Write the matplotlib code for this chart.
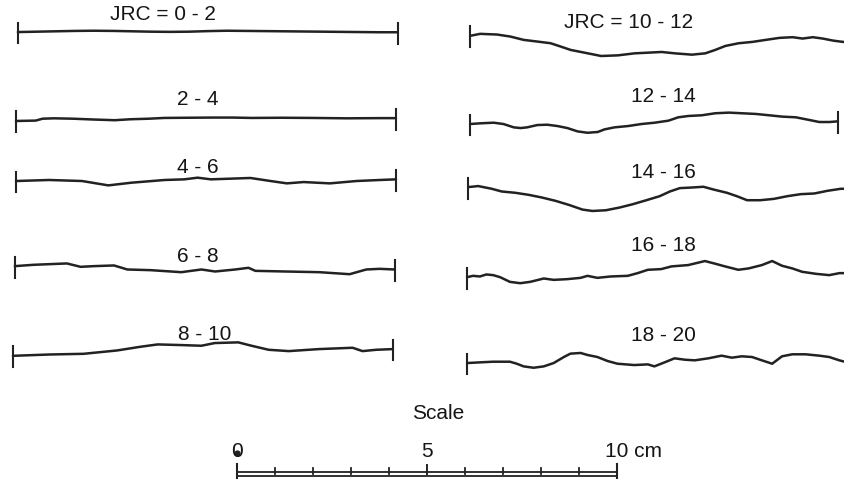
import matplotlib.pyplot as plt

# Roughness profiles: distance along trace (mm) and surface height (mm)
X_0_2 = [0, 5, 10, 15, 20, 25, 30, 35, 40, 45, 50, 55, 60, 65, 70, 75, 80, 85, 90, 95, 100]
H_0_2 = [0, 0.1, 0.2, 0.3, 0.35, 0.3, 0.2, 0.1, 0.05, 0.1, 0.25, 0.35, 0.3, 0.25, 0.2, 0.15,
         0.1, 0.05, 0, -0.05, -0.05]

X_2_4 = [0, 5.2, 7.0, 10, 15, 20, 26, 30, 35, 39, 45, 52, 57, 62, 70, 78, 87, 96, 100]
H_2_4 = [0, 0.1, 0.6, 0.7, 0.6, 0.4, 0.2, 0.45, 0.6, 0.8, 0.85, 0.9, 0.9, 0.8, 0.85, 0.8,
         0.7, 0.75, 0.75]

X_4_6 = [0, 8.7, 17.4, 24.3, 30.4, 39.1, 44.3, 47.8, 51.3, 56.5, 61.7, 67.0, 71.3, 75.7,
         82.6, 89.6, 95.7, 100]
H_4_6 = [0, 0.27, 0, -1.15, -0.44, 0.27, 0.44, 0.88, 0.44, 0.62, 0.8, 0, -0.62, -0.27,
         -0.62, 0, 0.27, 0.44]

X_6_8 = [0, 4.9, 13.7, 17.3, 20.8, 26.1, 29.6, 35.8, 43.8, 49.1, 52.7, 58.0, 61.5, 63.3,
         71.2, 80.1, 88.1, 92.5, 96.0, 100]
H_6_8 = [0, 0.35, 0.71, -0.18, 0, 0.18, -0.88, -1.06, -1.59, -0.88, -1.41, -0.88, -0.44,
         -1.24, -1.41, -1.59, -2.12, -0.88, -0.71, -0.88]

X_8_10 = [0, 9.7, 18.6, 27.4, 33.6, 38.1, 44.2, 49.6, 53.1, 59.3, 62.8, 67.3, 72.6, 80.5,
          89.4, 92.0, 95.6, 100]
H_8_10 = [0, 0.35, 0.53, 1.41, 2.39, 3.0, 2.83, 2.65, 3.36, 3.54, 2.65, 1.59, 1.24, 1.77,
          2.12, 1.24, 1.59, 1.77]

X_10_12 = [0, 2.65, 7.1, 10.6, 14.1, 17.7, 21.2, 23.9, 26.5, 30.1, 34.5, 38.9, 43.3, 46.9,
           50.4, 53.9, 58.4, 61.9, 64.5, 67.2, 70.7, 74.3, 77.8, 81.4, 84.9, 87.5, 90.2,
           92.8, 95.5, 98.1, 100]
H_10_12 = [0, 0.53, 0.35, -0.18, -1.06, -1.5, -1.94, -2.83, -3.71, -4.42, -5.3, -5.13,
           -4.6, -4.42, -4.24, -4.6, -4.95, -4.6, -3.71, -2.65, -1.94, -1.59, -1.06, -0.53,
           -0.35, -0.71, -0.35, -0.71, -1.24, -1.59, -1.41]

X_12_14 = [0, 2.65, 6.2, 8.8, 11.5, 13.3, 15.0, 17.7, 20.3, 23.0, 25.6, 28.3, 30.9, 33.6,
           35.4, 38.0, 41.6, 45.1, 48.6, 52.2, 54.8, 57.5, 61.0, 64.5, 68.1, 71.6, 75.2,
           78.7, 82.2, 85.7, 89.3, 91.9, 94.6, 96.8]
H_12_14 = [0, 0.18, 0.35, 0, -0.88, -1.06, -0.88, -0.27, -0.18, -0.53, -1.06, -1.94, -2.3,
           -2.1, -1.41, -0.88, -0.53, 0, 0.35, 0.88, 1.77, 2.12, 2.3, 2.83, 3.0, 2.83, 2.65,
           2.3, 1.94, 1.77, 1.06, 0.53, 0.53, 0.71]

X_14_16 = [0, 2.65, 6.2, 8.8, 12.4, 15.9, 19.4, 23.0, 26.5, 30.1, 32.7, 36.2, 39.8, 43.3,
           46.9, 50.4, 53.1, 55.7, 59.2, 61.9, 64.5, 68.1, 70.7, 73.4, 76.9, 80.5, 84.0,
           87.5, 91.1, 94.6, 98.1, 100]
H_14_16 = [0, 0.27, -0.44, -1.15, -1.5, -2.03, -2.74, -3.62, -4.68, -5.92, -6.28, -6.1,
           -5.39, -4.51, -3.45, -2.39, -1.15, -0.27, -0.09, 0.09, -0.62, -1.5, -2.39, -3.45,
           -3.45, -3.09, -2.39, -1.86, -1.68, -0.97, -0.44, -0.44]

X_16_18 = [0, 1.6, 3.4, 5.1, 6.9, 8.7, 11.3, 14.0, 16.6, 20.2, 22.8, 26.3, 29.9, 31.7,
           34.3, 37.8, 42.3, 44.9, 47.6, 51.1, 53.8, 58.2, 62.6, 65.3, 67.9, 71.4, 74.1,
           77.6, 80.3, 82.9, 85.6, 88.2, 91.8, 95.3, 98.0, 100]
H_16_18 = [0, 0.35, 0.18, 0.71, 0.53, 0, -1.24, -1.59, -1.24, -0.35, -0.71, -0.53, -0.18,
           0.35, -0.18, 0.18, 0.35, 1.06, 1.94, 2.12, 2.83, 3.18, 4.24, 3.54, 2.83, 1.94,
           2.3, 3.18, 4.24, 3.0, 2.3, 1.41, 0.88, 0.53, 1.06, 1.06]

X_18_20 = [0, 3.4, 6.9, 11.3, 13.1, 14.9, 17.5, 20.2, 22.8, 25.5, 27.2, 29.9, 31.7, 34.3,
           37.0, 39.6, 44.0, 47.6, 49.3, 52.0, 54.6, 57.3, 59.9, 63.5, 67.0, 69.7, 72.3,
           75.0, 77.6, 80.3, 82.9, 85.6, 89.1, 92.7, 95.3, 98.0, 100]
H_18_20 = [0, 0.18, 0.35, 0.35, -0.18, -0.88, -1.24, -0.88, 0, 1.59, 2.47, 2.65, 2.12,
           1.59, 0.53, -0.18, -0.53, -0.35, -0.88, 0.18, 1.24, 0.88, 0.71, 1.24, 1.94, 1.41,
           1.77, 1.59, 0.71, -0.18, 1.77, 2.3, 2.3, 1.94, 1.59, 0.71, 0.18]

LABELS = ["JRC = 0 - 2", "2 - 4", "4 - 6", "6 - 8", "8 - 10",
          "JRC = 10 - 12", "12 - 14", "14 - 16", "16 - 18", "18 - 20"]
PROFILES = [(X_0_2, H_0_2), (X_2_4, H_2_4), (X_4_6, H_4_6), (X_6_8, H_6_8),
            (X_8_10, H_8_10), (X_10_12, H_10_12), (X_12_14, H_12_14),
            (X_14_16, H_14_16), (X_16_18, H_16_18), (X_18_20, H_18_20)]

SCALE_MM = [0, 10, 20, 30, 40, 50, 60, 70, 80, 90, 100]
SCALE_TEXT = ["0", "5", "10 cm"]

# page layout, in mm on the sheet (y measured downwards)
PX = 3.8  # pixels per mm
W, H = 844 / PX, 485 / PX
ORIGIN_X = [4.7, 4.2, 4.2, 3.9, 3.4, 123.7, 123.7, 123.2, 122.9, 122.9]
BASE_Y = [8.7, 32.1, 47.9, 70.3, 93.9, 9.7, 32.9, 49.5, 73.2, 95.8]
LABEL_XY = [(42.9, 3.9), (52.1, 26.3), (52.1, 44.2), (52.1, 67.4), (53.9, 87.9),
            (165.5, 5.8), (174.7, 25.5), (174.7, 45.3), (174.7, 64.5), (174.7, 88.2)]
END_MARK = [True, True, True, True, True, False, True, False, False, False]

INK = "#222222"
TXT = "#151515"
plt.rcParams["font.family"] = ["Liberation Sans", "DejaVu Sans"]

fig = plt.figure(figsize=(8.44, 4.85), dpi=100)
ax = fig.add_axes([0, 0, 1, 1])
ax.set_xlim(0, W)
ax.set_ylim(H, 0)
ax.axis("off")

for (xs, hs), ox, by, lab, lxy, end in zip(PROFILES, ORIGIN_X, BASE_Y, LABELS, LABEL_XY, END_MARK):
    px = [ox + x for x in xs]
    py = [by - h for h in hs]
    ax.plot(px, py, color=INK, lw=1.8, solid_joinstyle="round", solid_capstyle="round")
    # end bars
    ax.plot([px[0], px[0]], [py[0] - 2.5, py[0] + 3.0], color=INK, lw=1.5)
    if end:
        ax.plot([px[-1], px[-1]], [py[-1] - 2.5, py[-1] + 3.0], color=INK, lw=1.5)
    ax.text(lxy[0], lxy[1], lab, ha="center", va="center", fontsize=15, color=TXT)

# scale bar
sx, sy = 62.3, 124.6
ax.text(115.3, 108.9, "Scale", ha="center", va="center", fontsize=15, color=TXT)
ax.plot([sx, sx + SCALE_MM[-1]], [sy, sy], color=INK, lw=1.3)
ax.plot([sx, sx + SCALE_MM[-1]], [sy + 1.05, sy + 1.05], color=INK, lw=1.3)
for m in SCALE_MM:
    if m in (0, SCALE_MM[-1]):
        ax.plot([sx + m, sx + m], [sy - 2.2, sy + 1.5], color=INK, lw=1.5)
    elif m == 50:
        ax.plot([sx + m, sx + m], [sy - 2.0, sy + 0.3], color=INK, lw=1.4)
    else:
        ax.plot([sx + m, sx + m], [sy - 1.1, sy + 0.3], color=INK, lw=1.3)
ax.plot(sx + 0.1, sy - 5.2, "o", color=INK, ms=3.5)
ax.text(sx, 118.9, SCALE_TEXT[0], ha="center", va="center", fontsize=15, color=TXT)
ax.text(sx + 50, 118.9, SCALE_TEXT[1], ha="center", va="center", fontsize=15, color=TXT)
ax.text(sx + 100 - 3.0, 118.9, SCALE_TEXT[2], ha="left", va="center", fontsize=15, color=TXT)

fig.savefig("out.png", dpi=100, facecolor="white")
